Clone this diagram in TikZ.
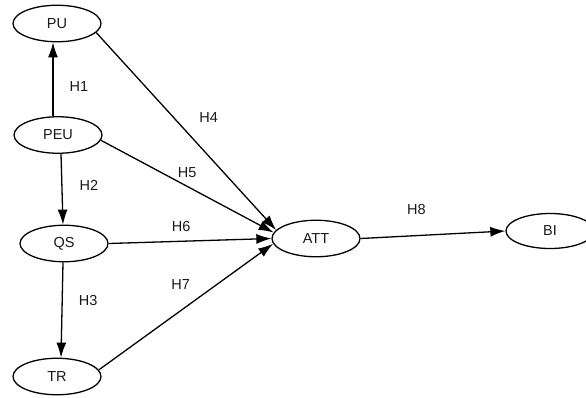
\documentclass[tikz,border=0pt]{standalone}
\usepackage{fontspec}
\setmainfont{Liberation Sans}
\usetikzlibrary{shapes.geometric, arrows.meta}
\usepackage{xcolor}

\begin{document}
\begin{tikzpicture}[x=1pt,y=-1pt,
	construct/.style={ellipse,draw,line width=1.3pt,minimum width=88pt,minimum height=36.5pt,inner sep=0pt,font=\fontsize{14.5}{16}\selectfont,text=black!90},
	path/.style={line width=1.3pt,-{Latex[length=15pt,width=10pt]}},
	hyp/.style={font=\fontsize{14.5}{16}\selectfont,text=black!90,inner sep=0pt}]
				\useasboundingbox (0,0) rectangle (586,397);
				\node (pu) [construct] at (57,23.5) {PU};
				\node (peu) [construct] at (58,135) {PEU};
				\node (qs) [construct] at (64,243.5) {QS};
				\node (tr) [construct] at (57,376.5) {TR};
				\node (att) [construct] at (316,238.5) {ATT};
				\node (bi) [construct,minimum height=35pt] at (550,231) {BI};
				\draw [path]([xshift=-5pt]peu.north) -- node [hyp,pos=0.4,xshift=26pt] {H1} ([xshift=-4pt]pu.south);
				\draw [path]([xshift=3pt]peu.south) -- node [hyp,pos=0.45,xshift=27pt] {H2} ([xshift=-1pt]qs.north);
				\draw [path]([xshift=-1pt]qs.south) -- node [hyp,pos=0.4,xshift=26pt] {H3} ([xshift=4pt]tr.north);
				\draw [path](pu.-13) -- node [hyp,pos=0.43,xshift=35pt] {H4} (att.168);
				\draw [path](peu.-7) -- node [hyp,pos=0.5,yshift=13.5pt] {H5} (att.172.5);
				\draw [path](qs.east) -- node [hyp,pos=0.445,yshift=14.5pt] {H6} (att.west);
				\draw [path](tr.9) -- node [hyp,pos=0.47,yshift=26.5pt] {H7} (att.187.5);
				\draw [path](att.east) -- node [hyp,pos=0.386,yshift=26pt] {H8} (bi.west);
			\end{tikzpicture}
\end{document}
